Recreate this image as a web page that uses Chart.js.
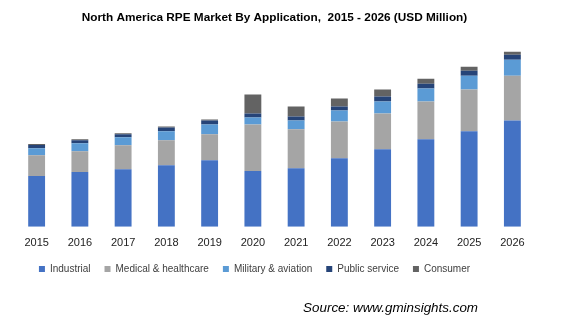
<!DOCTYPE html>
<html>
<head>
<meta charset="utf-8">
<script src="https://cdn.jsdelivr.net/npm/chart.js@4/dist/chart.umd.min.js"></script>
<style>
  html, body { margin: 0; padding: 0; background: #fff; }
  #wrap { width: 568px; height: 327px; }
</style>
</head>
<body>
<div id="wrap"><canvas id="rpeChart"></canvas></div>
<script>
// years on the x axis
const years = ["2015", "2016", "2017", "2018", "2019", "2020", "2021", "2022", "2023", "2024", "2025", "2026"];

// series values (USD Million)
const industrial = [51, 55, 58, 62, 67, 56, 59, 69, 78, 88, 96, 107];
const medical    = [21, 21, 24, 25, 26, 47, 39, 37, 36, 38, 42, 45];
const military   = [7, 8, 8, 9, 10, 7, 9, 11, 12, 13, 14, 16];
const publicSvc  = [3.3, 3, 3, 4, 4, 4, 4, 4, 5, 5, 5, 5];
const consumer   = [1, 1, 1, 1, 1, 19, 10, 8, 7, 5, 4, 3];

const seriesNames = ["Industrial", "Medical & healthcare", "Military & aviation", "Public service", "Consumer"];
const seriesColors = ["#4472C4", "#A5A5A5", "#5B9BD5", "#264478", "#636363"];

const allSeries = [industrial, medical, military, publicSvc, consumer];

const datasets = allSeries.map((vals, i) => ({
  label: seriesNames[i],
  data: vals,
  backgroundColor: seriesColors[i],
  borderWidth: 0,
  barPercentage: 0.39,
  categoryPercentage: 1
}));

// nudge the legend left and a bit up, like the original
const legendShift = {
  id: "legendShift",
  afterLayout(chart) {
    const lg = chart.legend;
    lg.left -= 20;
    lg.right -= 20;
    lg.top -= 2;
    lg.bottom -= 2;
  }
};

// source line at the bottom right
const sourceNote = {
  id: "sourceNote",
  afterDraw(chart) {
    const ctx = chart.ctx;
    ctx.save();
    ctx.font = "italic 13.4px 'Liberation Sans', Arial, sans-serif";
    ctx.fillStyle = "#000";
    ctx.textAlign = "right";
    ctx.textBaseline = "middle";
    ctx.fillText("Source: www.gminsights.com", 478, 308);
    ctx.restore();
  }
};

new Chart(document.getElementById("rpeChart"), {
  type: "bar",
  data: { labels: years, datasets: datasets },
  plugins: [legendShift, sourceNote],
  options: {
    responsive: true,
    maintainAspectRatio: false,
    animation: false,
    layout: { padding: { left: 15, right: 34, top: 0, bottom: 41 } },
    plugins: {
      title: {
        display: true,
        text: "North America RPE Market By Application,  2015 - 2026 (USD Million)",
        color: "#000",
        font: { family: "'Liberation Sans', Arial, sans-serif", size: 11.8, weight: "bold" },
        padding: { top: 11, bottom: 2.8 }
      },
      legend: {
        position: "bottom",
        fullSize: false,
        labels: {
          boxWidth: 6,
          boxHeight: 6,
          padding: 14,
          color: "#404040",
          font: { family: "'Liberation Sans', Arial, sans-serif", size: 10 }
        }
      },
      tooltip: { enabled: false }
    },
    scales: {
      x: {
        stacked: true,
        grid: { display: false },
        border: { display: false },
        ticks: {
          color: "#222",
          padding: 2,
          font: { family: "'Liberation Sans', Arial, sans-serif", size: 11 }
        }
      },
      y: {
        stacked: true,
        display: false,
        min: 0,
        max: 200
      }
    }
  }
});
</script>
</body>
</html>
